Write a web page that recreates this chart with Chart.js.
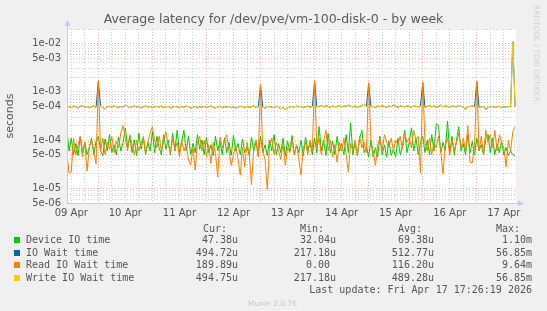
<!DOCTYPE html>
<html>
<head>
<meta charset="utf-8">
<script src="https://cdn.jsdelivr.net/npm/chart.js@4"></script>
<style>
  body { margin: 0; background: #f0f0f0; }
  #wrap { position: relative; width: 547px; height: 311px; overflow: hidden; background: #f0f0f0; }
  #chart { position: absolute; left: 0; top: 0; }
  .mono { position: absolute; white-space: pre; font-family: 'DejaVu Sans Mono', monospace; font-size: 10px; line-height: 12px; color: #555; }
  .sq { position: absolute; width: 6px; height: 6px; }
  #title { position: absolute; left: 0; width: 547px; top: 11px; text-align: center; font-family: 'DejaVu Sans', sans-serif; font-size: 12.5px; color: #5a5a5a; }
  #rrd { position: absolute; left: 532px; top: 5px; writing-mode: vertical-rl; font-family: 'DejaVu Sans', sans-serif; font-size: 7.5px; color: #d0d0d0; }
  #munin { position: absolute; left: 0; width: 545px; top: 299px; text-align: center; font-family: 'DejaVu Sans', sans-serif; font-size: 7.5px; color: #c8c8c8; }
</style>
</head>
<body>
<div id="wrap">
  <canvas id="chart" width="547" height="311"></canvas>
  <div id="title">Average latency for /dev/pve/vm-100-disk-0 - by week</div>
  <div id="rrd">RRDTOOL / TOBI OETIKER</div>
  <div id="legend"></div>
  <div id="munin">Munin 2.0.76</div>
</div>
<script>
// hours since 09 Apr 00:00, one sample per hour
const hours = Array.from({length: 200}, (_, i) => 10 + i);
const dayLabels = ['09 Apr', '10 Apr', '11 Apr', '12 Apr', '13 Apr', '14 Apr', '15 Apr', '16 Apr', '17 Apr'];

// values in microseconds
const deviceIo = [
  180, 60, 110, 50, 85, 48, 120, 55, 90, 50,
  70, 110, 50, 95, 120, 60, 48, 105, 60, 130,
  55, 80, 50, 115, 60, 90, 180, 70, 120, 55,
  100, 48, 140, 65, 110, 50, 90, 60, 150, 55,
  120, 70, 50, 130, 65, 100, 50, 140, 60, 160,
  55, 90, 160, 60, 120, 50, 85, 55, 130, 65,
  100, 50, 115, 55, 80, 48, 120, 60, 95, 50,
  110, 55, 90, 48, 125, 60, 85, 50, 105, 55,
  75, 48, 115, 60, 90, 50, 120, 55, 80, 48,
  100, 60, 130, 50, 85, 55, 110, 48, 95, 60,
  125, 50, 80, 55, 100, 48, 115, 60, 90, 50,
  110, 55, 190, 60, 100, 48, 140, 55, 95, 50,
  120, 60, 85, 50, 130, 55, 230, 50, 90, 48,
  110, 160, 55, 75, 45, 100, 45, 70, 45, 120,
  50, 80, 45, 95, 48, 65, 45, 110, 50, 75,
  160, 55, 90, 180, 60, 110, 50, 85, 120, 55,
  100, 50, 130, 60, 220, 200, 55, 90, 60, 250,
  55, 120, 50, 100, 190, 60, 85, 50, 130, 55,
  95, 50, 110, 60, 80, 50, 105, 130, 55, 110,
  50, 85, 55, 95, 50, 70, 48, 60, 50, 47
];
const ioWait = [
  480, 500, 470, 510, 490, 460, 500, 520, 480, 500,
  470, 490, 510, 480, 1600, 520, 470, 440, 490, 500,
  480, 510, 490, 470, 500, 480, 540, 500, 470, 490,
  510, 480, 500, 460, 490, 510, 480, 500, 470, 490,
  500, 480, 510, 470, 490, 500, 460, 480, 500, 490,
  470, 500, 480, 510, 490, 460, 480, 500, 470, 490,
  480, 500, 470, 490, 510, 480, 460, 490, 500, 470,
  490, 480, 500, 470, 490, 460, 480, 500, 490, 470,
  500, 480, 490, 510, 470, 490, 1400, 480, 460, 490,
  500, 480, 470, 500, 490, 440, 480, 430, 460, 490,
  500, 480, 510, 490, 500, 470, 490, 510, 480, 500,
  1650, 490, 500, 520, 490, 510, 500, 480, 510, 490,
  500, 520, 490, 510, 500, 530, 500, 490, 510, 480,
  500, 520, 560, 500, 1500, 490, 500, 470, 510, 490,
  520, 500, 480, 510, 490, 530, 500, 480, 510, 500,
  490, 510, 500, 480, 520, 500, 490, 510, 1550, 480,
  500, 520, 490, 510, 480, 500, 530, 490, 510, 500,
  480, 510, 500, 490, 520, 500, 480, 440, 490, 500,
  510, 490, 1600, 480, 490, 500, 430, 470, 490, 500,
  480, 490, 500, 470, 490, 480, 500, 490, 11000, 495
];
const readWait = [
  60, 21, 22, 110, 50, 80, 120, 45, 90, 23,
  70, 100, 60, 32, 1700, 60, 110, 50, 90, 65,
  120, 55, 95, 70, 140, 200, 110, 60, 130, 80,
  50, 100, 60, 85, 120, 55, 90, 140, 190, 100,
  70, 120, 60, 95, 150, 80, 55, 110, 65, 90,
  45, 100, 60, 80, 40, 30, 70, 24, 90, 120,
  60, 100, 45, 80, 33, 90, 55, 17, 115, 70,
  95, 130, 60, 30, 50, 80, 40, 19, 70, 28,
  90, 50, 12, 75, 100, 45, 1400, 60, 40, 9.5,
  80, 110, 50, 90, 60, 40, 85, 30, 70, 55,
  100, 50, 80, 40, 19, 70, 90, 50, 100, 60,
  1700, 70, 110, 50, 90, 160, 60, 100, 45, 80,
  35, 90, 60, 110, 50, 22, 85, 60, 100, 50,
  120, 70, 90, 55, 1550, 100, 60, 30, 80, 110,
  60, 130, 90, 70, 110, 60, 100, 80, 120, 65,
  140, 90, 110, 70, 160, 100, 120, 21, 1600, 90,
  60, 110, 50, 90, 70, 120, 60, 20, 80, 110,
  50, 100, 60, 90, 140, 70, 110, 60, 200, 35,
  34, 80, 1650, 60, 120, 50, 160, 90, 130, 70,
  160, 60, 130, 90, 70, 28, 100, 60, 150, 190
];
const writeWait = [
  480, 500, 470, 510, 490, 460, 500, 520, 480, 500,
  470, 490, 510, 480, 500, 520, 470, 440, 490, 500,
  480, 510, 490, 470, 500, 480, 540, 500, 470, 490,
  510, 480, 500, 460, 490, 510, 480, 500, 470, 490,
  500, 480, 510, 470, 490, 500, 460, 480, 500, 490,
  470, 500, 480, 510, 490, 460, 480, 500, 470, 490,
  480, 500, 470, 490, 510, 480, 460, 490, 500, 470,
  490, 480, 500, 470, 490, 460, 480, 500, 490, 470,
  500, 480, 490, 510, 470, 490, 500, 480, 460, 490,
  500, 480, 470, 500, 490, 440, 480, 430, 460, 490,
  500, 480, 510, 490, 500, 470, 490, 510, 480, 500,
  510, 490, 500, 520, 490, 510, 500, 480, 510, 490,
  500, 520, 490, 510, 500, 530, 500, 490, 510, 480,
  500, 520, 560, 500, 510, 490, 500, 470, 510, 490,
  520, 500, 480, 510, 490, 530, 500, 480, 510, 500,
  490, 510, 500, 480, 520, 500, 490, 510, 500, 480,
  500, 520, 490, 510, 480, 500, 530, 490, 510, 500,
  480, 510, 500, 490, 520, 500, 480, 440, 490, 500,
  510, 490, 500, 480, 490, 500, 430, 470, 490, 500,
  480, 490, 500, 470, 490, 480, 500, 490, 11000, 495
];

const seriesNames = ['Device IO time', 'IO Wait time', 'Read IO Wait time', 'Write IO Wait time'];
const seriesColors = ['#00cc00', '#0066b3', '#ff8000', '#ffcc00'];
const curVals = ['47.38u', '494.72u', '189.89u', '494.75u'];
const minVals = ['32.04u', '217.18u', '0.00 ', '217.18u'];
const avgVals = ['69.38u', '512.77u', '116.20u', '489.28u'];
const maxVals = ['1.10m', '56.85m', '9.64m', '56.85m'];

// grid: every 6 hours, red at midnight
const gridHours = [];
for (let h = 12; h <= 204; h += 6) gridHours.push(h);

// log grid 1..9 per decade (microseconds)
const yGrid = [];
[1, 10, 100, 1000, 10000].forEach(d => {
  for (let k = 1; k <= 9; k++) {
    const v = k * d;
    if (v >= 5 && v <= 20000) yGrid.push(v);
  }
});
const isMajorY = v => {
  const m = v / Math.pow(10, Math.floor(Math.log10(v) + 1e-9));
  return Math.abs(m - 1) < 1e-6 || Math.abs(m - 5) < 1e-6;
};
const fmtSec = v => (v / 1e6).toExponential(0).replace(/e([+-])(\d)$/, 'e$10$2');

const majorGrid = 'rgba(235,120,120,0.6)';
const minorGrid = 'rgba(170,170,170,0.55)';

const plotFrame = {
  id: 'plotFrame',
  beforeDraw(chart) {
    const {ctx, chartArea: a} = chart;
    ctx.save();
    ctx.fillStyle = '#ffffff';
    ctx.fillRect(a.left, a.top, a.right - a.left, a.bottom - a.top);
    ctx.restore();
  },
  afterDraw(chart) {
    const {ctx, chartArea: a} = chart;
    const x0 = Math.round(a.left) + 0.5, y0 = Math.round(a.bottom) + 0.5;
    ctx.save();
    ctx.strokeStyle = '#c4c8f4';
    ctx.fillStyle = '#c4c8f4';
    ctx.lineWidth = 1;
    ctx.beginPath();
    ctx.moveTo(x0, y0); ctx.lineTo(x0, a.top - 5);
    ctx.moveTo(x0, y0); ctx.lineTo(a.right + 4, y0);
    ctx.stroke();
    ctx.beginPath();
    ctx.moveTo(x0 - 3, a.top - 3); ctx.lineTo(x0 + 3, a.top - 3); ctx.lineTo(x0, a.top - 9); ctx.closePath();
    ctx.fill();
    ctx.beginPath();
    ctx.moveTo(a.right + 2, y0 - 3); ctx.lineTo(a.right + 2, y0 + 3); ctx.lineTo(a.right + 8, y0); ctx.closePath();
    ctx.fill();
    ctx.restore();
  }
};

const toPoints = arr => hours.map((h, i) => ({x: h, y: arr[i]}));

new Chart(document.getElementById('chart'), {
  type: 'line',
  data: {
    datasets: [deviceIo, ioWait, readWait, writeWait].map((arr, i) => ({
      label: seriesNames[i],
      data: toPoints(arr),
      borderColor: seriesColors[i],
      borderWidth: 1,
      pointRadius: 0,
      fill: false,
      tension: 0,
      order: 4 - i
    }))
  },
  options: {
    responsive: false,
    animation: false,
    devicePixelRatio: 1,
    layout: {padding: {left: 0, top: 29, right: 31, bottom: 88}},
    plugins: {legend: {display: false}, tooltip: {enabled: false}, title: {display: false}},
    scales: {
      x: {
        type: 'linear',
        min: 10.1,
        max: 209.4,
        afterBuildTicks: s => { s.ticks = gridHours.map(v => ({value: v})); },
        afterFit: s => { s.height = 20; },
        ticks: {
          autoSkip: false, maxRotation: 0, padding: 4, color: '#555',
          font: {family: 'DejaVu Sans', size: 10},
          callback: v => (v % 24 === 12 ? dayLabels[(v - 12) / 24] : '')
        },
        grid: {
          drawTicks: false, lineWidth: 1, borderDash: [1, 2],
          color: c => (c.tick && c.tick.value % 24 === 0 ? majorGrid : minorGrid)
        },
        border: {display: false, dash: [1, 2]}
      },
      y: {
        type: 'logarithmic',
        min: 5,
        max: 20000,
        afterBuildTicks: s => { s.ticks = yGrid.map(v => ({value: v})); },
        afterFit: s => { s.width = 67; },
        ticks: {
          autoSkip: false, padding: 6, color: '#555',
          font: {family: 'DejaVu Sans', size: 10},
          callback: v => (isMajorY(v) ? fmtSec(v) : '')
        },
        grid: {
          drawTicks: false, lineWidth: 1, borderDash: [1, 2],
          color: c => (c.tick && isMajorY(c.tick.value) ? majorGrid : minorGrid)
        },
        border: {display: false, dash: [1, 2]},
        title: {
          display: true, text: 'seconds', color: '#555',
          font: {family: 'DejaVu Sans', size: 11}, padding: {top: 4, bottom: 0}
        }
      }
    }
  },
  plugins: [plotFrame]
});

// legend block below the plot
const legend = document.getElementById('legend');
const put = (text, style) => {
  const d = document.createElement('div');
  d.className = 'mono';
  d.textContent = text;
  Object.assign(d.style, style);
  legend.appendChild(d);
};
put('Cur:', {left: '203px', top: '223px'});
put('Min:', {left: '300px', top: '223px'});
put('Avg:', {left: '398px', top: '223px'});
put('Max:', {left: '496px', top: '223px'});
const rowTops = [234, 246.5, 259, 271.5];
seriesNames.forEach((name, i) => {
  const sq = document.createElement('div');
  sq.className = 'sq';
  sq.style.left = '14px';
  sq.style.top = (rowTops[i] + 3) + 'px';
  sq.style.background = seriesColors[i];
  legend.appendChild(sq);
  put(name, {left: '26px', top: rowTops[i] + 'px'});
  put(curVals[i], {right: '309px', top: rowTops[i] + 'px'});
  put(minVals[i], {right: '211px', top: rowTops[i] + 'px'});
  put(avgVals[i], {right: '113px', top: rowTops[i] + 'px'});
  put(maxVals[i], {right: '15px', top: rowTops[i] + 'px'});
});
put('Last update: Fri Apr 17 17:26:19 2026', {right: '15px', top: '284px'});
</script>
</body>
</html>
